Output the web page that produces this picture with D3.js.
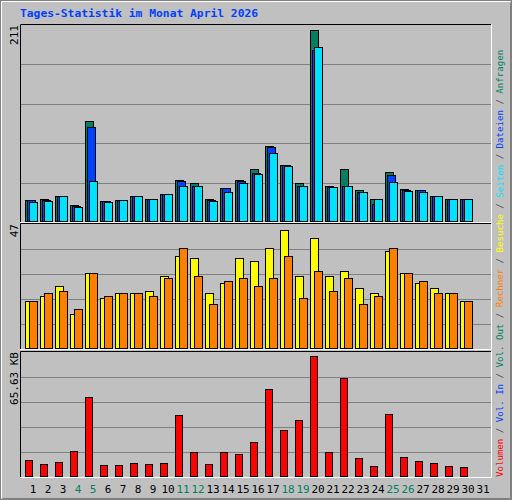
<!DOCTYPE html>
<html>
<head>
<meta charset="utf-8">
<script src="https://cdn.jsdelivr.net/npm/d3@7"></script>
<style>
body { margin: 0; background: #fff; }
text { font-family: "DejaVu Sans Mono", monospace; }
</style>
</head>
<body>
<svg id="chart" width="512" height="500"></svg>
<script>
var days = d3.range(1, 32);
var weekend = [4, 5, 11, 12, 18, 19, 25, 26];
var anfragen = [24, 25, 29, 19, 111, 23, 24, 29, 25, 31, 46, 43, 25, 37, 46, 58, 83, 63, 43, 211, 40, 58, 35, 25, 55, 36, 35, 29, 25, 25, 0];
var dateien  = [24, 24, 29, 18, 104, 23, 24, 29, 25, 31, 45, 40, 24, 37, 45, 54, 82, 63, 40, 189, 38, 39, 33, 20, 52, 35, 35, 28, 25, 25, 0];
var seiten   = [22, 23, 29, 16, 45, 22, 24, 28, 25, 31, 40, 40, 23, 33, 43, 53, 76, 61, 40, 192, 38, 39, 33, 25, 44, 34, 33, 28, 25, 25, 0];
var besuche  = [19, 21, 25, 14, 30, 20, 22, 22, 23, 29, 37, 36, 22, 26, 36, 35, 40, 47, 29, 44, 29, 31, 24, 22, 39, 30, 26, 24, 22, 19, 0];
var rechner  = [19, 22, 23, 16, 30, 21, 22, 22, 21, 28, 40, 29, 18, 27, 28, 25, 28, 37, 20, 31, 23, 28, 18, 21, 40, 30, 27, 22, 22, 19, 0];
var volumen  = [9.1, 6.9, 8.0, 14, 43.3, 6.4, 6.4, 7.4, 6.9, 7.4, 33.5, 13.4, 6.9, 13.4, 12.3, 18.9, 47.7, 25.4, 30.8, 65.63, 13.4, 53.7, 10.2, 5.8, 34.1, 10.7, 8.5, 7.4, 5.8, 5.3, 0];
var axisLabels = ["211", "47", "65.63 KB"];

var svg = d3.select("#chart");
var left = 20, right = 491;

// frame
svg.append("rect").attr("x", 0.5).attr("y", 0.5).attr("width", 511).attr("height", 499)
    .attr("fill", "#c0c0c0").attr("stroke", "#808080");
svg.append("path").attr("d", "M1.5,498.5V1.5H510.5").attr("fill", "none").attr("stroke", "#fff");
svg.append("path").attr("d", "M2.5,498.5H510.5V2.5").attr("fill", "none").attr("stroke", "#808080");

svg.append("text").attr("x", 20).attr("y", 17).attr("fill", "#0040ff")
    .style("font-size", "11.3px").style("font-weight", "bold")
    .text("Tages-Statistik im Monat April 2026");

var x = d3.scaleLinear().domain([1, 32]).range([25, 490]);

var panels = [
    {top: 25, bottom: 222, max: 216, series: [[anfragen, "#008060", 0, 8], [dateien, "#0040ff", 2, 8], [seiten, "#00e0ff", 4, 8]]},
    {top: 224, bottom: 349, max: 49.5, series: [[besuche, "#ffff00", 0, 8], [rechner, "#ff8000", 4, 8]]},
    {top: 352, bottom: 477, max: 67.6, series: [[volumen, "#ff0000", 0, 7]]}
];

panels.forEach(function (p, pi) {
    var y = d3.scaleLinear().domain([0, p.max]).range([p.bottom, p.top]);
    var step = (p.bottom - p.top) / 5;
    svg.append("path")
        .attr("d", "M" + left + "," + (p.bottom + 0.5) + "H" + (right + 0.5) + "V" + (p.top - 0.5))
        .attr("fill", "none").attr("stroke", "#fff");
    svg.append("path")
        .attr("d", "M" + (left + 0.5) + "," + p.bottom + "V" + (p.top - 0.5) + "H" + right)
        .attr("fill", "none").attr("stroke", "#000");
    for (var k = 1; k < 5; k++) {
        var gy = Math.round(p.top + step * k) + 0.5;
        svg.append("line").attr("x1", left + 1).attr("x2", right).attr("y1", gy).attr("y2", gy)
            .attr("stroke", "#808080");
    }
    p.series.forEach(function (s) {
        svg.append("g").selectAll("rect").data(s[0]).join("rect")
            .filter(function (d) { return d > 0; })
            .attr("x", function (d, i) { return x(i + 1) + s[2] + 0.5; })
            .attr("y", function (d) { return Math.round(y(d)) + 0.5; })
            .attr("width", s[3])
            .attr("height", function (d) { return p.bottom - Math.round(y(d)) - 1; })
            .attr("fill", s[1]).attr("stroke", "#000");
    });
    svg.append("text")
        .attr("transform", "translate(18," + p.top + ") rotate(-90)")
        .attr("text-anchor", "end").style("font-size", "11px").attr("fill", "#000")
        .text(axisLabels[pi]);
});

// day labels
svg.append("g").selectAll("text").data(days).join("text")
    .attr("x", function (d) { return x(d) + 8; })
    .attr("y", 493)
    .attr("text-anchor", "middle").style("font-size", "11px")
    .attr("fill", function (d) { return weekend.indexOf(d) >= 0 ? "#008060" : "#000"; })
    .text(function (d) { return d; });

// right legend
var legend = [["Volumen", "#ff0000"], ["Vol. In", "#0040ff"], ["Vol. Out", "#008060"], ["Rechner", "#ff8000"],
    ["Besuche", "#ffff00"], ["Seiten", "#00e0ff"], ["Dateien", "#0040ff"], ["Anfragen", "#008060"]];
var lt = svg.append("text")
    .attr("transform", "translate(503,477) rotate(-90)")
    .style("font-size", "9.1px");
legend.forEach(function (l, i) {
    if (i > 0) lt.append("tspan").attr("fill", "#404040").text(" / ");
    lt.append("tspan").attr("fill", l[1]).text(l[0]);
});
</script>
</body>
</html>
